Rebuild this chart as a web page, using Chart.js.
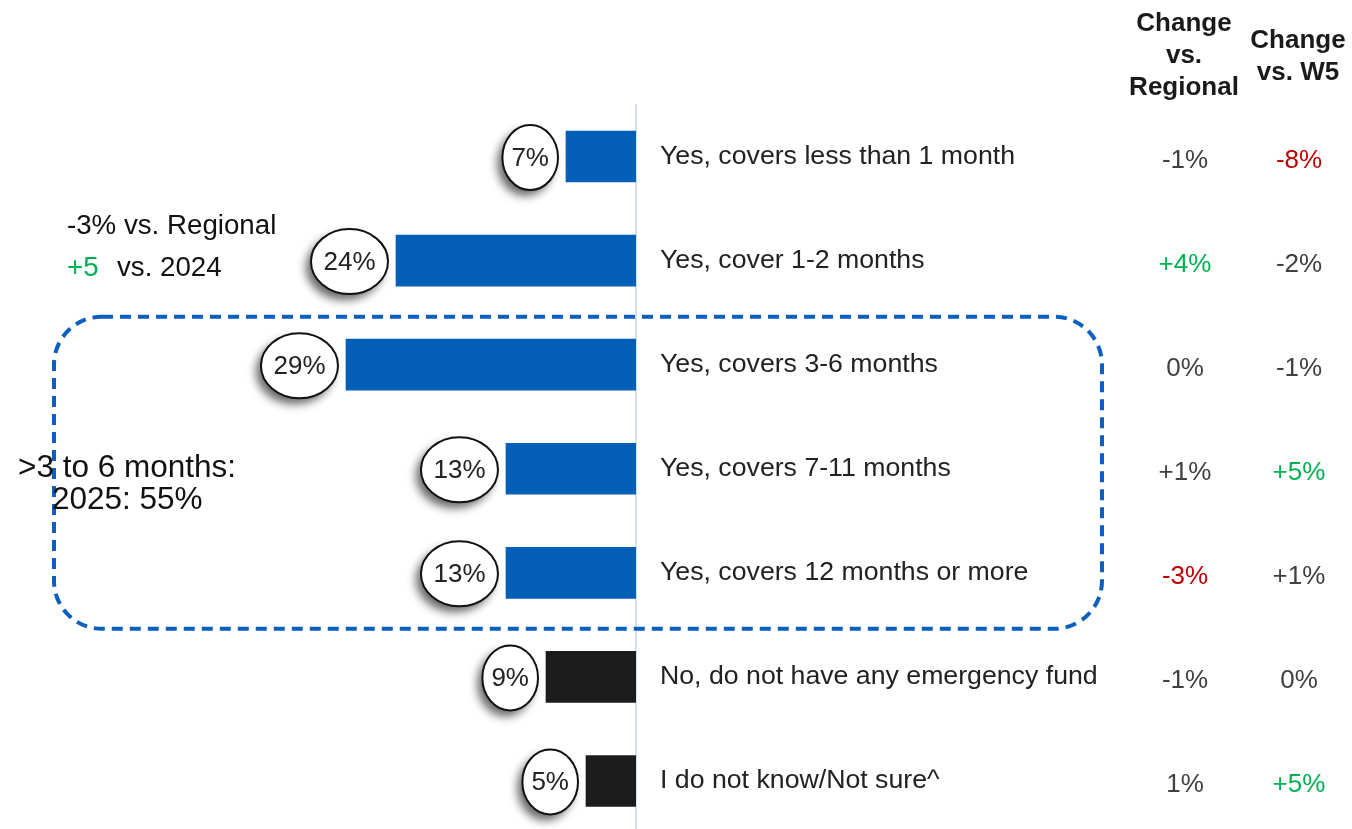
<!DOCTYPE html>
<html>
<head>
<meta charset="utf-8">
<script src="https://cdn.jsdelivr.net/npm/chart.js@4.4.1/dist/chart.umd.min.js"></script>
<style>
  html, body { margin: 0; padding: 0; background: #fff; overflow: hidden; }
  #wrap { width: 1352px; height: 829px; overflow: hidden; position: relative; }
  canvas { display: block; }
</style>
</head>
<body>
<div id="wrap"><canvas id="c" width="1352" height="834"></canvas></div>
<script>
// Answer options, top to bottom
const categories = [
  'Yes, covers less than 1 month',
  'Yes, cover 1-2 months',
  'Yes, covers 3-6 months',
  'Yes, covers 7-11 months',
  'Yes, covers 12 months or more',
  'No, do not have any emergency fund',
  'I do not know/Not sure^'
];
// Share of respondents (%)
const shares = [7, 24, 29, 13, 13, 9, 5];
// Whether the answer is a "yes, has a fund" option
const hasFund = [true, true, true, true, true, false, false];

// Change columns and their significance tone (up / down / none)
const changeVsRegional = ['-1%', '+4%', '0%', '+1%', '-3%', '-1%', '1%'];
const toneVsRegional   = ['none', 'up', 'none', 'none', 'down', 'none', 'none'];
const changeVsW5       = ['-8%', '-2%', '-1%', '+5%', '+1%', '0%', '+5%'];
const toneVsW5         = ['down', 'none', 'none', 'up', 'none', 'none', 'up'];

const headerRegional = ['Change', 'vs.', 'Regional'];
const headerW5 = ['Change', 'vs. W5'];

const FONT = '"Liberation Sans", Arial, Helvetica, sans-serif';
const BLUE = '#045fb8';
const DARK = '#1c1c1c';
const TEXT = '#222222';
const GREY = '#404040';
const GREEN = '#00b050';
const RED = '#c00000';
const toneColor = t => t === 'up' ? GREEN : (t === 'down' ? RED : GREY);

// Draws percentage bubbles, the change columns and the side notes
const decorations = {
  id: 'decorations',
  afterDatasetsDraw(chart) {
    const ctx = chart.ctx;
    const y = chart.scales.y;
    const meta = chart.getDatasetMeta(0);

    // dashed group box around the 3+ month answers
    const top = (y.getPixelForValue(1) + y.getPixelForValue(2)) / 2 + 4;
    const bottom = (y.getPixelForValue(4) + y.getPixelForValue(5)) / 2 + 4;
    ctx.save();
    ctx.strokeStyle = '#0a5fbf';
    ctx.lineWidth = 4;
    ctx.setLineDash([11, 7]);
    ctx.beginPath();
    ctx.roundRect(54, top, 1048, bottom - top, 48);
    ctx.stroke();
    ctx.restore();

    // value bubbles
    ctx.save();
    ctx.font = '26px ' + FONT;
    meta.data.forEach((bar, i) => {
      const label = shares[i] + '%';
      const tw = ctx.measureText(label).width;
      const rx = tw * 0.74;
      const ry = 32.5;
      const cx = bar.x - 8 - rx;
      const cy = bar.y + 1;
      ctx.save();
      ctx.shadowColor = 'rgba(0,0,0,0.6)';
      ctx.shadowBlur = 10;
      ctx.shadowOffsetX = -5;
      ctx.shadowOffsetY = 6;
      ctx.beginPath();
      ctx.ellipse(cx, cy, rx, ry, 0, 0, Math.PI * 2);
      ctx.fillStyle = '#fff';
      ctx.fill();
      ctx.restore();
      ctx.beginPath();
      ctx.ellipse(cx, cy, rx, ry, 0, 0, Math.PI * 2);
      ctx.lineWidth = 2;
      ctx.strokeStyle = '#111';
      ctx.stroke();
      ctx.fillStyle = TEXT;
      ctx.textAlign = 'center';
      ctx.textBaseline = 'middle';
      ctx.fillText(label, cx, cy + 1);
    });
    ctx.restore();

    // change columns
    ctx.save();
    ctx.textAlign = 'center';
    ctx.textBaseline = 'middle';
    ctx.font = '26px ' + FONT;
    categories.forEach((c, i) => {
      const py = y.getPixelForValue(i) + 4;
      ctx.fillStyle = toneColor(toneVsRegional[i]);
      ctx.fillText(changeVsRegional[i], 1185, py);
      ctx.fillStyle = toneColor(toneVsW5[i]);
      ctx.fillText(changeVsW5[i], 1299, py);
    });
    ctx.font = 'bold 26px ' + FONT;
    ctx.fillStyle = '#1a1a1a';
    headerRegional.forEach((t, k) => ctx.fillText(t, 1184, 24 + k * 32));
    headerW5.forEach((t, k) => ctx.fillText(t, 1298, 41 + k * 32));
    ctx.restore();

    // side notes
    ctx.save();
    ctx.textBaseline = 'middle';
    ctx.textAlign = 'left';
    ctx.font = '27.7px ' + FONT;
    const r1 = y.getPixelForValue(1);
    ctx.fillStyle = '#111';
    ctx.fillText('-3% vs. Regional', 67, r1 - 34);
    ctx.fillStyle = GREEN;
    ctx.fillText('+5', 67, r1 + 8);
    ctx.fillStyle = '#111';
    ctx.fillText('vs. 2024', 117, r1 + 8);
    const r2 = y.getPixelForValue(2);
    ctx.font = '31.5px ' + FONT;
    ctx.fillText('>3 to 6 months:', 18, r2 + 104);
    ctx.fillText('2025: 55%', 52, r2 + 136);
    ctx.restore();
  }
};

new Chart(document.getElementById('c'), {
  type: 'bar',
  data: {
    labels: categories,
    datasets: [{
      data: shares,
      backgroundColor: ctx => hasFund[ctx.dataIndex] ? BLUE : DARK,
      borderWidth: 0,
      barThickness: 51
    }]
  },
  options: {
    indexAxis: 'y',
    responsive: false,
    animation: false,
    devicePixelRatio: 1,
    layout: { padding: { left: 36, top: 104.5, bottom: 1, right: 0 } },
    plugins: { legend: { display: false }, tooltip: { enabled: false } },
    scales: {
      x: {
        reverse: true,
        min: 0,
        max: 60,
        display: false
      },
      y: {
        position: 'right',
        grid: { display: false, drawTicks: false },
        border: { display: true, color: '#cfe2f6', width: 2 },
        ticks: {
          padding: 24,
          color: TEXT,
          font: { family: FONT, size: 26.7 }
        },
        afterFit(scale) {
          scale.width = 716;
          scale.paddingTop = 0;
          scale.paddingBottom = 0;
        }
      }
    }
  },
  plugins: [decorations]
});
</script>
</body>
</html>
